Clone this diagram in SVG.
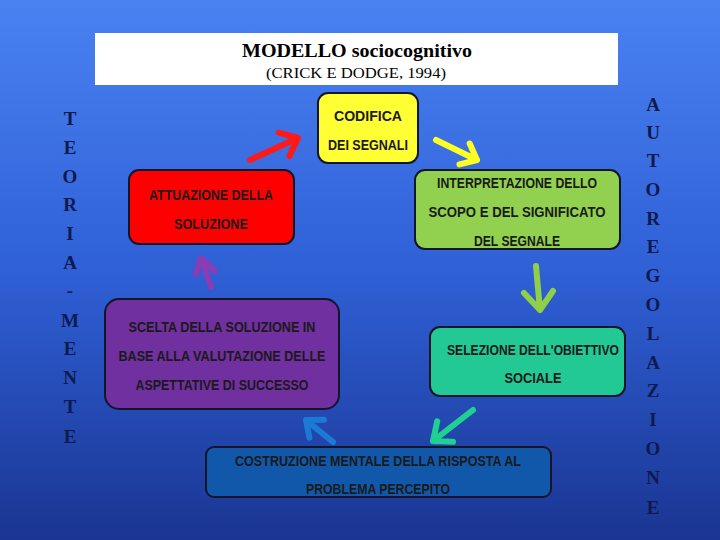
<svg xmlns="http://www.w3.org/2000/svg" width="720" height="540" viewBox="0 0 720 540">
<defs>
<linearGradient id="bg" x1="0" y1="0" x2="0" y2="1">
<stop offset="0" stop-color="#4a82f2"/>
<stop offset="0.5" stop-color="#2f60d6"/>
<stop offset="1" stop-color="#1a3592"/>
</linearGradient>
</defs>
<style>
.box{stroke:#15152a;stroke-width:2}
.lbl{font-family:"Liberation Sans",Arial,sans-serif;font-weight:bold;font-size:15px;text-anchor:middle;fill:#1a1a1a}
.side{font-family:"Liberation Serif","Times New Roman",serif;font-weight:bold;font-size:19px;text-anchor:middle;fill:#0e1a4e}
.arr{fill:none;stroke-width:6;stroke-linecap:round;stroke-linejoin:round}
</style>
<rect x="0" y="0" width="720" height="540" fill="url(#bg)"/>
<g id="title">
<rect x="95" y="33" width="523" height="52" fill="#ffffff"/>
<text x="357" y="57" font-family="Liberation Serif,'Times New Roman',serif" font-weight="bold" font-size="18" text-anchor="middle" fill="#000" textLength="230" lengthAdjust="spacingAndGlyphs">MODELLO sociocognitivo</text>
<text x="356" y="78" font-family="Liberation Serif,'Times New Roman',serif" font-size="14" text-anchor="middle" fill="#000" textLength="180" lengthAdjust="spacingAndGlyphs">(CRICK E DODGE, 1994)</text>
</g>
<g id="teoria-mente">
<text class="side" x="70" y="125">T</text>
<text class="side" x="70" y="154">E</text>
<text class="side" x="70" y="183">O</text>
<text class="side" x="70" y="211">R</text>
<text class="side" x="70" y="240">I</text>
<text class="side" x="70" y="269">A</text>
<text class="side" x="70" y="297">-</text>
<text class="side" x="70" y="327">M</text>
<text class="side" x="70" y="355">E</text>
<text class="side" x="70" y="384">N</text>
<text class="side" x="70" y="413">T</text>
<text class="side" x="70" y="443">E</text>
</g>
<g id="autoregolazione">
<text class="side" x="653" y="111">A</text>
<text class="side" x="653" y="139">U</text>
<text class="side" x="653" y="167">T</text>
<text class="side" x="653" y="196">O</text>
<text class="side" x="653" y="225">R</text>
<text class="side" x="653" y="253">E</text>
<text class="side" x="653" y="282">G</text>
<text class="side" x="653" y="311">O</text>
<text class="side" x="653" y="340">L</text>
<text class="side" x="653" y="369">A</text>
<text class="side" x="653" y="397">Z</text>
<text class="side" x="653" y="426">I</text>
<text class="side" x="653" y="455">O</text>
<text class="side" x="653" y="484">N</text>
<text class="side" x="653" y="514">E</text>
</g>
<g id="connectors">
<path class="arr" stroke="#ff1a1a" d="M250,160 L298,138 M278.7,132.7 L298,138 L289.4,156.1"/>
<path class="arr" stroke="#ffff22" d="M436,140 L477,160 M469.7,143.5 L477,160 L459.5,164.4"/>
<path class="arr" stroke="#8fd048" d="M536,266 L540,310 M553,291 L540,310 L524,293"/>
<path class="arr" stroke="#20d090" d="M473,410 L433,441 M453,441.8 L433,441 L437.2,421.4"/>
<path class="arr" stroke="#1c7ad6" d="M333,442 L306,420 M309.4,437.7 L306,420 L324,419.7"/>
<path class="arr" stroke="#8a3cb4" d="M211,287 L201,258 M196,274 L201,258 L215,271"/>
</g>
<g id="codifica">
<rect class="box" x="318" y="93" width="100" height="70" rx="10" fill="#ffff33"/>
<text class="lbl" x="368" y="121" textLength="68" lengthAdjust="spacingAndGlyphs">CODIFICA</text>
<text class="lbl" x="368" y="150" textLength="80" lengthAdjust="spacingAndGlyphs">DEI SEGNALI</text>
</g>
<g id="interpretazione">
<rect class="box" x="415" y="170" width="205" height="79" rx="10" fill="#92d050"/>
<text class="lbl" x="517" y="188" textLength="160" lengthAdjust="spacingAndGlyphs">INTERPRETAZIONE DELLO</text>
<text class="lbl" x="517" y="217" textLength="177" lengthAdjust="spacingAndGlyphs">SCOPO E DEL SIGNIFICATO</text>
<text class="lbl" x="517" y="246" textLength="86" lengthAdjust="spacingAndGlyphs">DEL SEGNALE</text>
</g>
<g id="selezione">
<rect class="box" x="430" y="327" width="195" height="69" rx="10" fill="#22c994"/>
<text class="lbl" x="533" y="355" textLength="172" lengthAdjust="spacingAndGlyphs">SELEZIONE DELL'OBIETTIVO</text>
<text class="lbl" x="533" y="383" textLength="57" lengthAdjust="spacingAndGlyphs">SOCIALE</text>
</g>
<g id="costruzione">
<rect class="box" x="206" y="447" width="345" height="50" rx="8" fill="#1258aa"/>
<text class="lbl" x="378" y="466" fill="#101830" textLength="286" lengthAdjust="spacingAndGlyphs">COSTRUZIONE MENTALE DELLA RISPOSTA AL</text>
<text class="lbl" x="378" y="494" fill="#101830" textLength="144" lengthAdjust="spacingAndGlyphs">PROBLEMA PERCEPITO</text>
</g>
<g id="scelta">
<rect class="box" x="105" y="299" width="234" height="110" rx="14" fill="#7030a0"/>
<text class="lbl" x="222" y="332" fill="#141030" textLength="187" lengthAdjust="spacingAndGlyphs">SCELTA DELLA SOLUZIONE IN</text>
<text class="lbl" x="222" y="361" fill="#141030" textLength="207" lengthAdjust="spacingAndGlyphs">BASE ALLA VALUTAZIONE DELLE</text>
<text class="lbl" x="222" y="390" fill="#141030" textLength="173" lengthAdjust="spacingAndGlyphs">ASPETTATIVE DI SUCCESSO</text>
</g>
<g id="attuazione">
<rect class="box" x="129" y="170" width="165" height="74" rx="10" fill="#ff0000"/>
<text class="lbl" x="211" y="200" fill="#2a0a0a" textLength="124" lengthAdjust="spacingAndGlyphs">ATTUAZIONE DELLA</text>
<text class="lbl" x="211" y="229" fill="#2a0a0a" textLength="74" lengthAdjust="spacingAndGlyphs">SOLUZIONE</text>
</g>
</svg>
